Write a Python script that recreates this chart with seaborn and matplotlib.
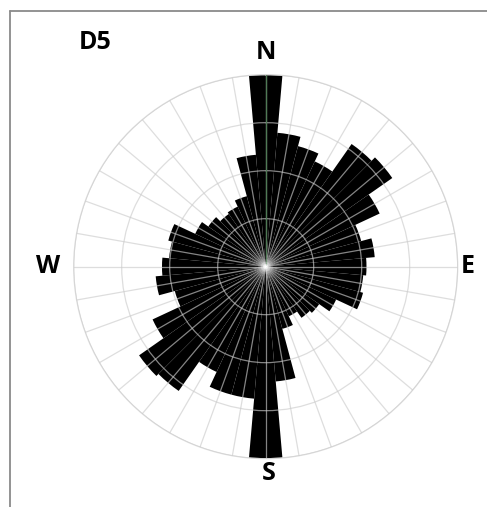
import numpy as np
import pandas as pd
import matplotlib
matplotlib.use("Agg")
import matplotlib.pyplot as plt
from matplotlib.lines import Line2D
import seaborn as sns

# Direction of each 10-degree sector (degrees clockwise from north)
directions_deg = list(range(0, 360, 10))
# Frequency per sector
frequency = [20.0, 14.0, 13.0, 12.1, 15.6, 16.1, 13.1, 10.3, 11.4,
             10.5, 10.2, 10.5, 8.1, 6.8, 6.5, 5.7, 6.7, 12.0,
             20.0, 13.8, 13.8, 12.1, 15.8, 16.1, 13.0, 9.8, 11.5,
             10.8, 10.1, 10.5, 8.1, 7.3, 6.7, 6.9, 7.6, 11.7]
ring_levels = [5, 10, 15, 20]
compass_labels = ["N", "E", "S", "W"]
panel_label = "D5"

sns.set_style("white")
plt.rcParams["font.family"] = ["Open Sans", "DejaVu Sans"]

df = pd.DataFrame({"theta": np.deg2rad(directions_deg), "freq": frequency})

fig = plt.figure(figsize=(4.87, 5.07), dpi=100)
ax = fig.add_axes([0.1513, 0.0953, 0.7885, 0.7574], projection="polar")
ax.set_theta_zero_location("N")
ax.set_theta_direction(-1)

sns.barplot(data=df, x="theta", y="freq", native_scale=True, width=1.0,
            color="black", edgecolor="none", linewidth=0, errorbar=None,
            saturation=1, ax=ax)

ax.set_xlabel("")
ax.set_ylabel("")
ax.set_ylim(0, ring_levels[-1])
ax.set_yticks(ring_levels)
ax.set_yticklabels([])
ax.set_xticks(np.deg2rad(directions_deg))
ax.set_xticklabels([])
ax.set_axisbelow(False)
ax.grid(True, color="#cccccc", alpha=0.65, linewidth=0.9)
ax.spines["polar"].set_color("#dcdcdc")
ax.spines["polar"].set_linewidth(0.9)
ax.tick_params(length=0)

# faint greenish line along the north sector
ax.plot([0, 0], [0, frequency[0]], color="#4f7a55", linewidth=0.9, zorder=3)

# glow at the centre
for s, a in [(260, 0.05), (120, 0.1), (50, 0.25), (14, 0.6), (4, 1.0)]:
    ax.scatter([0], [0], s=s, color="white", alpha=a, edgecolors="none", zorder=4)

# compass letters
label_px = {"N": (266, 52.5), "E": (468, 266.7), "S": (269, 474), "W": (48, 266.7)}
W, H = 487, 507
for lab in compass_labels:
    x, y = label_px[lab]
    fig.text(x / W, 1 - y / H, lab, ha="center", va="center",
             fontsize=18, fontweight="bold", color="black")

fig.text(95 / W, 1 - 42.5 / H, panel_label, ha="center", va="center",
         fontsize=18, fontweight="bold", color="black")

# frame lines along the top and left edges
fig.add_artist(Line2D([9.5 / W, 1], [1 - 10.5 / H, 1 - 10.5 / H],
                      transform=fig.transFigure, color="#8a8a8a", linewidth=1.3))
fig.add_artist(Line2D([9.5 / W, 9.5 / W], [0, 1 - 10.5 / H],
                      transform=fig.transFigure, color="#8a8a8a", linewidth=1.3))

fig.savefig("out.png", dpi=100, facecolor="white")
